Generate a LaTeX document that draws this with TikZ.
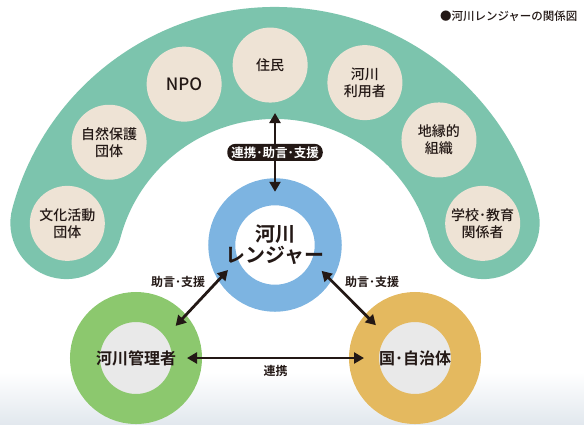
\documentclass[tikz,border=0pt]{standalone}
\usepackage{fontspec}
\setmainfont{Noto Sans CJK JP}
\newfontfamily\jpm{Noto Sans CJK JP Medium}
\newfontfamily\jpb{Noto Sans CJK JP Bold}
\usetikzlibrary{arrows.meta,calc}
\definecolor{bandc}{HTML}{7CC4AD}
\definecolor{beige}{HTML}{EEE3D5}
\definecolor{blueR}{HTML}{7DB4E1}
\definecolor{greenR}{HTML}{8CC86E}
\definecolor{yellowR}{HTML}{E4B95F}
\definecolor{innerg}{HTML}{E9E9E9}
\definecolor{ink}{HTML}{231815}
\definecolor{bgray}{HTML}{E2E8EE}
\begin{document}
\begin{tikzpicture}[x=1pt,y=-1pt,
  member/.style={circle, fill=beige, minimum size=75, inner sep=0pt, align=center,
    text=ink, font=\jpm\fontsize{14}{17}\selectfont},
  ring/.style={circle, minimum size=103, inner sep=0pt, outer sep=0pt, line width=27pt, align=center, text=ink},
  arr/.style={draw=ink, line width=2.8pt, {Triangle[width=11pt,length=10pt]}-{Triangle[width=11pt,length=10pt]}},
  lbl/.style={fill=ink, text=white, rounded corners=8pt, inner xsep=4pt, inner ysep=0pt, minimum height=17pt,
    font=\jpb\fontsize{12.5}{12.5}\selectfont},
  small/.style={text=ink, font=\jpb\fontsize{12}{12}\selectfont}
]
\useasboundingbox (0,0) rectangle (584,424);
\fill[top color=white, bottom color=bgray] (0,372) rectangle (584,424);
\coordinate (O) at (275,279);
\draw[bandc, line width=112pt, line cap=round] ($(O)+(-165:216)$) arc[start angle=-165, end angle=-15, radius=216];

\node[member] (bunka) at ($(O)+(-165:215)$) {文化活動\\団体};
\node[member] (shizen) at ($(O)+(-140.5:215)$) {自然保護\\団体};
\node[member, font=\jpm\fontsize{17}{17}\selectfont] (npo) at ($(O)+(-115:215)$) {NPO};
\node[member] (jumin) at ($(O)+(-91.3:214)$) {住民};
\node[member] (riyo) at ($(O)+(-65.4:216)$) {河川\\利用者};
\node[member] (chien) at ($(O)+(-40.3:215)$) {地縁的\\組織};
\node[member] (gakko) at ($(O)+(-15:215)$) {学校･教育\\関係者};

\node[ring, draw=blueR, fill=white, font=\jpb\fontsize{20}{21}\selectfont] (ranger) at (275,245) {河川\\レンジャー};
\node[ring, minimum size=102, line width=30pt, draw=greenR, fill=innerg, font=\jpb\fontsize{16}{16}\selectfont] (kanri) at (136,358) {河川管理者};
\node[ring, minimum size=102, line width=30pt, draw=yellowR, fill=innerg, font=\jpb\fontsize{16}{16}\selectfont] (kuni) at (415,358) {国･自治体};

\coordinate (vtop) at (275,113);
\draw[arr] (vtop) -- (ranger.north) node[pos=0.5, lbl] {連携･助言･支援};
\draw[arr] (ranger.208) -- (kanri.39);
\draw[arr] (ranger.331) -- (kuni.140);
\draw[arr] (kanri.east) -- (kuni.west) node[midway, below=3pt, small] {連携};
\node[small] (lblL) at (178,282) {助言･支援};
\node[small] (lblR) at (372,282) {助言･支援};

\node[anchor=east, text=ink, font=\jpm\fontsize{11.5}{12}\selectfont] (title) at (581,16) {●河川レンジャーの関係図};
\end{tikzpicture}
\end{document}
